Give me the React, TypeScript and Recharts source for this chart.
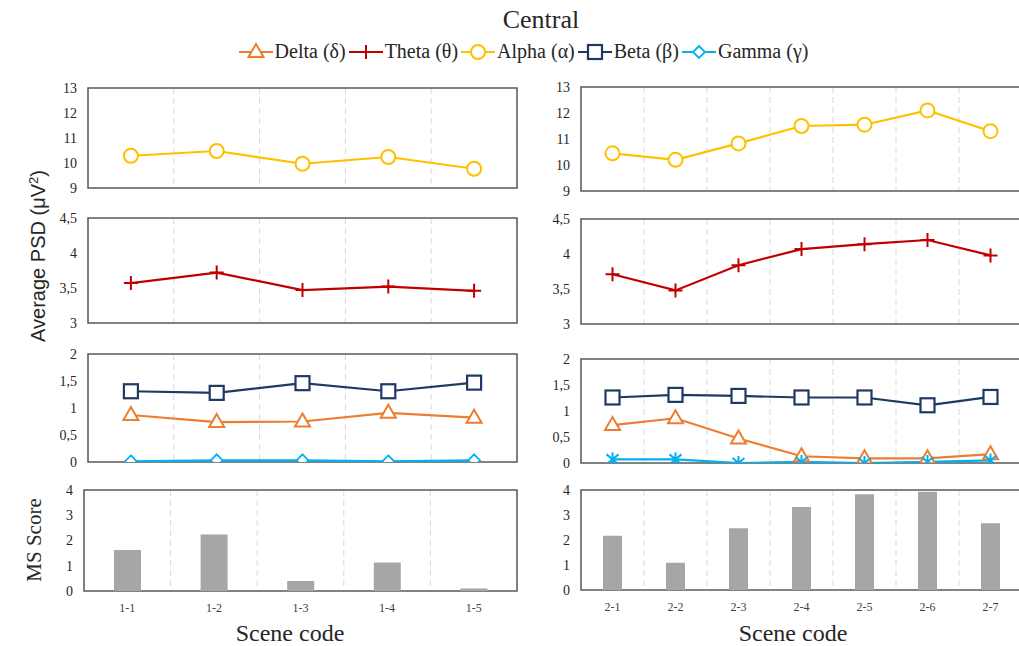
import React from 'react'
import {
  ComposedChart,
  Line,
  Bar,
  XAxis,
  YAxis,
  CartesianGrid,
  ReferenceArea,
} from 'recharts'

const leftScenes = ['1-1', '1-2', '1-3', '1-4', '1-5']
const rightScenes = ['2-1', '2-2', '2-3', '2-4', '2-5', '2-6', '2-7']

const leftAlpha = [10.29, 10.48, 9.97, 10.24, 9.77]
const rightAlpha = [10.45, 10.2, 10.83, 11.5, 11.55, 12.1, 11.3]
const leftTheta = [3.57, 3.72, 3.47, 3.52, 3.46]
const rightTheta = [3.71, 3.48, 3.84, 4.07, 4.14, 4.2, 3.98]
const leftBeta = [1.31, 1.28, 1.46, 1.31, 1.47]
const rightBeta = [1.26, 1.31, 1.29, 1.26, 1.26, 1.11, 1.27]
const leftDelta = [0.87, 0.74, 0.75, 0.91, 0.82]
const rightDelta = [0.73, 0.86, 0.47, 0.13, 0.09, 0.09, 0.17]
const leftGamma = [0.01, 0.03, 0.03, 0.01, 0.03]
const rightGamma = [0.07, 0.07, 0.0, 0.02, 0.0, 0.02, 0.05]
const leftMs = [1.62, 2.24, 0.4, 1.13, 0.1]
const rightMs = [2.17, 1.09, 2.47, 3.32, 3.83, 3.93, 2.67]

const alphaTicks = [9, 10, 11, 12, 13]
const thetaTicks = [3, 3.5, 4, 4.5]
const lowTicks = [0, 0.5, 1, 1.5, 2]
const msTicks = [0, 1, 2, 3, 4]

const C = {
  delta: '#ED7D31',
  theta: '#C00000',
  alpha: '#FFC000',
  beta: '#1F3864',
  gamma: '#00B0F0',
  bar: '#A6A6A6',
  frame: '#595959',
}

const SERIF = '"Liberation Serif", "DejaVu Serif", serif'
const SANS = '"Liberation Sans", Arial, sans-serif'

type Shape = 'circle' | 'plus' | 'triangle' | 'square' | 'diamond' | 'star'

function Marker({ shape, cx, cy, color }: { shape: Shape; cx: number; cy: number; color: string }) {
  if (cx == null || cy == null) return null
  const sw = 2
  switch (shape) {
    case 'circle':
      return <circle cx={cx} cy={cy} r={7} fill="#fff" stroke={color} strokeWidth={sw} />
    case 'plus':
      return <path d={`M${cx - 7},${cy}H${cx + 7}M${cx},${cy - 7}V${cy + 7}`} stroke={color} strokeWidth={sw} fill="none" />
    case 'triangle':
      return <polygon points={`${cx},${cy - 8} ${cx - 7.5},${cy + 5} ${cx + 7.5},${cy + 5}`} fill="#fff" stroke={color} strokeWidth={sw} />
    case 'square':
      return <rect x={cx - 7} y={cy - 7} width={14} height={14} fill="#fff" stroke={color} strokeWidth={2.2} />
    case 'diamond':
      return <polygon points={`${cx},${cy - 6} ${cx + 6},${cy} ${cx},${cy + 6} ${cx - 6},${cy}`} fill="#fff" stroke={color} strokeWidth={1.8} />
    case 'star':
      return (
        <path
          d={`M${cx},${cy - 7}V${cy + 7}M${cx - 6},${cy - 5}L${cx + 6},${cy + 5}M${cx - 6},${cy + 5}L${cx + 6},${cy - 5}`}
          stroke={color}
          strokeWidth={sw}
          fill="none"
        />
      )
  }
  return null
}

type SeriesDef = { key: string; values: number[]; color: string; shape: Shape }

type PanelProps = {
  left: number
  top: number
  plotW: number
  plotH: number
  scenes: string[]
  series?: SeriesDef[]
  bars?: number[]
  barSize?: number
  domain: [number, number]
  ticks: number[]
}

const fmt = (v: number) => String(v).replace('.', ',')

function Panel({ left, top, plotW, plotH, scenes, series = [], bars, barSize, domain, ticks }: PanelProps) {
  const yW = 40
  const mt = 10
  const showX = !!bars
  const xH = 30
  const mb = showX ? 0 : 10
  const width = yW + plotW + 2
  const height = mt + plotH + (showX ? xH : mb)
  const data = scenes.map((s, i) => {
    const row: Record<string, any> = { scene: s, pos: i + 0.5 }
    series.forEach((sd) => (row[sd.key] = sd.values[i]))
    if (bars) row.ms = bars[i]
    return row
  })
  // category boundaries, used only for the dashed separators
  const gridTicks = scenes.slice(1).map((_, i) => i + 1)
  return (
    <div style={{ position: 'absolute', left: left - yW, top: top - mt }}>
      <ComposedChart width={width} height={height} data={data} margin={{ top: mt, right: 2, bottom: mb, left: 0 }}>
        <XAxis
          dataKey="scene"
          type="category"
          scale="band"
          hide={!showX}
          height={xH}
          axisLine={false}
          tickLine={false}
          tickMargin={6}
          tick={{ fontSize: 12, fill: '#404040', fontFamily: SERIF }}
          interval={0}
        />
        <XAxis
          xAxisId="g"
          dataKey="pos"
          type="number"
          domain={[0, scenes.length]}
          ticks={gridTicks}
          hide
          allowDataOverflow
        />
        <YAxis
          domain={domain}
          ticks={ticks}
          width={yW}
          axisLine={false}
          tickLine={false}
          tickMargin={5}
          tickFormatter={fmt}
          interval={0}
          allowDataOverflow
          tick={{ fontSize: 14, fill: '#262626', fontFamily: SERIF }}
        />
        <CartesianGrid xAxisId="g" horizontal={false} stroke="#D9D9D9" strokeDasharray="6 4" strokeWidth={1} />
        {bars && <Bar dataKey="ms" fill={C.bar} barSize={barSize} isAnimationActive={false} />}
        <ReferenceArea y1={domain[0]} y2={domain[1]} fill="none" stroke={C.frame} strokeWidth={1.5} />
        {series.map((sd) => (
          <Line
            key={sd.key}
            dataKey={sd.key}
            stroke={sd.color}
            strokeWidth={2.2}
            isAnimationActive={false}
            dot={(p: any) => <Marker key={`${sd.key}-${p.index}`} shape={sd.shape} cx={p.cx} cy={p.cy} color={sd.color} />}
            activeDot={false}
          />
        ))}
      </ComposedChart>
    </div>
  )
}

const legendItems: { label: string; color: string; shape: Shape }[] = [
  { label: 'Delta (δ)', color: C.delta, shape: 'triangle' },
  { label: 'Theta (θ)', color: C.theta, shape: 'plus' },
  { label: 'Alpha (α)', color: C.alpha, shape: 'circle' },
  { label: 'Beta (β)', color: C.beta, shape: 'square' },
  { label: 'Gamma (γ)', color: C.gamma, shape: 'diamond' },
]

function Legend() {
  return (
    <div
      style={{
        position: 'absolute',
        left: 0,
        top: 40,
        width: 1050,
        display: 'flex',
        justifyContent: 'center',
        alignItems: 'center',
        fontFamily: SERIF,
        fontSize: 20,
        color: '#262626',
      }}
    >
      {legendItems.map((it) => (
        <div key={it.label} style={{ display: 'flex', alignItems: 'center', marginRight: 3 }}>
          <svg width={34} height={20}>
            <line x1={0} y1={10} x2={34} y2={10} stroke={it.color} strokeWidth={2.2} />
            <Marker shape={it.shape} cx={17} cy={10} color={it.color} />
          </svg>
          <span style={{ marginLeft: 2 }}>{it.label}</span>
        </div>
      ))}
    </div>
  )
}

export default function App() {
  const LW = 429
  const RW = 441
  return (
    <div
      style={{
        position: 'absolute',
        left: 0,
        top: 0,
        width: 1019,
        height: 646,
        overflow: 'hidden',
        background: '#fff',
      }}
    >
      <div
        style={{
          position: 'absolute',
          left: 0,
          top: 5,
          width: 1082,
          textAlign: 'center',
          fontFamily: SERIF,
          fontSize: 26,
          color: '#262626',
        }}
      >
        Central
      </div>
      <Legend />

      <div
        style={{
          position: 'absolute',
          left: 38,
          top: 256,
          transform: 'translate(-50%, -50%) rotate(-90deg)',
          whiteSpace: 'nowrap',
          fontFamily: SANS,
          fontSize: 20,
          color: '#262626',
        }}
      >
        Average PSD (μV<sup style={{ fontSize: 13 }}>2</sup>)
      </div>
      <div
        style={{
          position: 'absolute',
          left: 34,
          top: 540,
          transform: 'translate(-50%, -50%) rotate(-90deg)',
          whiteSpace: 'nowrap',
          fontFamily: SERIF,
          fontSize: 21,
          color: '#262626',
        }}
      >
        MS Score
      </div>

      <Panel left={88} top={88} plotW={LW} plotH={100} scenes={leftScenes} domain={[9, 13]} ticks={alphaTicks}
        series={[{ key: 'alpha', values: leftAlpha, color: C.alpha, shape: 'circle' }]} />
      <Panel left={581} top={87} plotW={RW} plotH={104} scenes={rightScenes} domain={[9, 13]} ticks={alphaTicks}
        series={[{ key: 'alpha', values: rightAlpha, color: C.alpha, shape: 'circle' }]} />

      <Panel left={88} top={218} plotW={LW} plotH={105} scenes={leftScenes} domain={[3, 4.5]} ticks={thetaTicks}
        series={[{ key: 'theta', values: leftTheta, color: C.theta, shape: 'plus' }]} />
      <Panel left={581} top={219} plotW={RW} plotH={105} scenes={rightScenes} domain={[3, 4.5]} ticks={thetaTicks}
        series={[{ key: 'theta', values: rightTheta, color: C.theta, shape: 'plus' }]} />

      <Panel left={88} top={354} plotW={LW} plotH={108} scenes={leftScenes} domain={[0, 2]} ticks={lowTicks}
        series={[
          { key: 'gamma', values: leftGamma, color: C.gamma, shape: 'diamond' },
          { key: 'delta', values: leftDelta, color: C.delta, shape: 'triangle' },
          { key: 'beta', values: leftBeta, color: C.beta, shape: 'square' },
        ]} />
      <Panel left={581} top={359} plotW={RW} plotH={104} scenes={rightScenes} domain={[0, 2]} ticks={lowTicks}
        series={[
          { key: 'delta', values: rightDelta, color: C.delta, shape: 'triangle' },
          { key: 'gamma', values: rightGamma, color: C.gamma, shape: 'star' },
          { key: 'beta', values: rightBeta, color: C.beta, shape: 'square' },
        ]} />

      <Panel left={84} top={490} plotW={433} plotH={101} scenes={leftScenes} domain={[0, 4]} ticks={msTicks}
        bars={leftMs} barSize={27} />
      <Panel left={581} top={490} plotW={RW} plotH={100} scenes={rightScenes} domain={[0, 4]} ticks={msTicks}
        bars={rightMs} barSize={19} />

      <div style={{ position: 'absolute', left: 290, top: 633, transform: 'translate(-50%, -50%)', fontFamily: SERIF, fontSize: 24, color: '#262626', whiteSpace: 'nowrap' }}>
        Scene code
      </div>
      <div style={{ position: 'absolute', left: 793, top: 633, transform: 'translate(-50%, -50%)', fontFamily: SERIF, fontSize: 24, color: '#262626', whiteSpace: 'nowrap' }}>
        Scene code
      </div>
    </div>
  )
}
